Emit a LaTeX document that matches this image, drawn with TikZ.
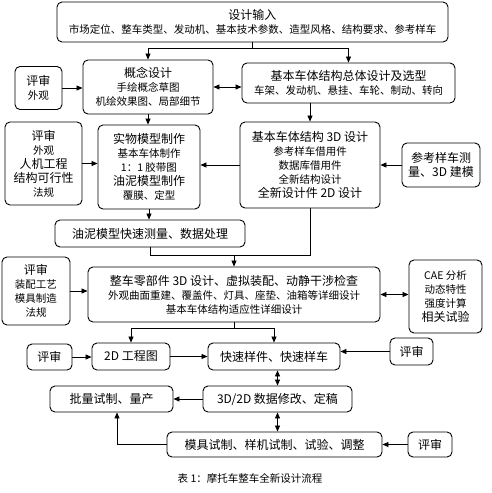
\documentclass[tikz,border=0pt]{standalone}
\usepackage{fontspec}
\newfontfamily\cjk{Noto Sans CJK SC}
\usetikzlibrary{arrows.meta,calc}
\newcommand\bigt{\fontsize{12}{14}\selectfont}
\newcommand\smt{\fontsize{10.5}{14}\selectfont}
\begin{document}
\begin{tikzpicture}[x=1pt,y=-1pt,
  box/.style={draw, rounded corners=5pt, line width=0.9pt, align=center, inner sep=1pt, font=\cjk\smt},
  arr/.style={line width=0.8pt, -{Triangle[length=6pt,width=5pt]}},
  darr/.style={line width=0.8pt, {Triangle[length=6pt,width=5pt]}-{Triangle[length=6pt,width=5pt]}},
  ln/.style={line width=0.8pt}]
\useasboundingbox (0,0) rectangle (492,493);

\node[box, minimum width=391pt, minimum height=40pt] (input) at (252.5,22)
  {{\bigt 设计输入}\\市场定位、整车类型、发动机、基本技术参数、造型风格、结构要求、参考样车};
\node[box, minimum width=47pt, minimum height=43pt] (rev1) at (38.5,88)
  {{\bigt 评审}\\外观};
\node[box, minimum width=130pt, minimum height=54pt] (concept) at (148,87)
  {{\bigt 概念设计}\\手绘概念草图\\机绘效果图、局部细节};
\node[box, minimum width=213pt, minimum height=40pt] (chassis) at (348.5,83)
  {{\bigt 基本车体结构总体设计及选型}\\车架、发动机、悬挂、车轮、制动、转向};
\node[box, minimum width=77pt, minimum height=83pt] (rev2) at (43.5,163.5)
  {{\bigt 评审}\\外观\\{\bigt 人机工程}\\{\bigt 结构可行性}\\法规};
\node[box, minimum width=102pt, minimum height=84pt] (physical) at (149,167)
  {{\bigt 实物模型制作}\\基本车体制作\\1：1 胶带图\\{\bigt 油泥模型制作}\\覆膜、定型};
\node[box, minimum width=140pt, minimum height=86pt] (design) at (310,165)
  {{\bigt 基本车体结构 3D 设计}\\参考样车借用件\\数据库借用件\\全新结构设计\\{\bigt 全新设计件 2D 设计}};
\node[box, minimum width=78pt, minimum height=44pt] (refcar) at (441,165)
  {{\bigt 参考样车测}\\{\bigt 量、3D 建模}};
\node[box, minimum width=190pt, minimum height=27pt, font=\cjk\bigt] (oil) at (150,233.5)
  {油泥模型快速测量、数据处理};
\node[box, minimum width=68pt, minimum height=68pt] (rev3) at (36,291)
  {{\bigt 评审}\\装配工艺\\模具制造\\法规};
\node[box, minimum width=292pt, minimum height=55pt] (detail) at (234,294.5)
  {{\bigt 整车零部件 3D 设计、虚拟装配、动静干涉检查}\\外观曲面重建、覆盖件、灯具、座垫、油箱等详细设计\\基本车体结构适应性详细设计};
\node[box, minimum width=73pt, minimum height=73pt] (cae) at (445.5,296.5)
  {CAE 分析\\动态特性\\强度计算\\{\bigt 相关试验}};
\node[box, minimum width=45pt, minimum height=26pt, font=\cjk\bigt] (rev4) at (49.5,357) {评审};
\node[box, minimum width=78pt, minimum height=27pt, font=\cjk\bigt] (d2) at (131,356.5) {2D 工程图};
\node[box, minimum width=132pt, minimum height=27pt, font=\cjk\bigt] (rapid) at (274,356.5) {快速样件、快速样车};
\node[box, minimum width=43pt, minimum height=27pt, font=\cjk\bigt] (rev5) at (411.5,351.5) {评审};
\node[box, minimum width=123pt, minimum height=26pt, font=\cjk\bigt] (batch) at (111.5,399) {批量试制、量产};
\node[box, minimum width=149pt, minimum height=26pt, font=\cjk\bigt] (data) at (277.5,399) {3D/2D 数据修改、定稿};
\node[box, minimum width=215pt, minimum height=25pt, font=\cjk\bigt] (mold) at (274.5,444.5) {模具试制、样机试制、试验、调整};
\node[box, minimum width=44pt, minimum height=25pt, font=\cjk\bigt] (rev6) at (430,444.5) {评审};
\node[font=\cjk\smt, inner sep=0pt] (caption) at (250,478) {表 1：摩托车整车全新设计流程};

% connectors
\coordinate (j1) at (252.5,48);
\draw[ln] (input.south) -- (j1);
\draw[arr] (j1) -| (concept.north);
\draw[arr] (j1) -| (chassis.north);
\draw[arr] (rev1.east) -- (rev1.east -| concept.west);
\draw[darr] (concept.east) -- (concept.east -| chassis.west);
\draw[arr] (concept.south) -- (concept.south |- physical.north);
\draw[arr] (chassis.south -| design.north) -- (design.north);
\draw[arr] (rev2.east) -- (rev2.east -| physical.west);
\draw[arr] (design.west) -- (design.west -| physical.east);
\draw[arr] (refcar.west) -- (refcar.west -| design.east);
\draw[arr] (physical.south) -- (physical.south |- oil.north);
\coordinate (m1) at (234,255);
\draw[ln] (oil.south) |- (m1);
\draw[ln] (design.south) |- (m1);
\draw[arr] (m1) -- (detail.north);
\draw[arr] (rev3.east) -- (rev3.east -| detail.west);
\draw[darr] (detail.east) -- (detail.east -| cae.west);
\coordinate (m2) at (234,328);
\draw[ln] (detail.south) -- (m2);
\draw[arr] (m2) -| (d2.north);
\draw[arr] (m2) -| (rapid.north);
\draw[arr] (rev4.east) -- (rev4.east -| d2.west);
\draw[arr] (d2.east) -- (d2.east -| rapid.west);
\draw[arr] (rev5.west) -- (rev5.west -| rapid.east);
\draw[darr] (data.north) -- (data.north |- rapid.south);
\draw[arr] (data.west) -- (data.west -| batch.east);
\draw[darr] (data.south) -- (data.south |- mold.north);
\draw[arr] (rev6.west) -- (rev6.west -| mold.east);
\coordinate (m3) at ($(batch.south)+(5.5,0)$);
\draw[arr] (mold.west) -| (m3);
\end{tikzpicture}
\end{document}
